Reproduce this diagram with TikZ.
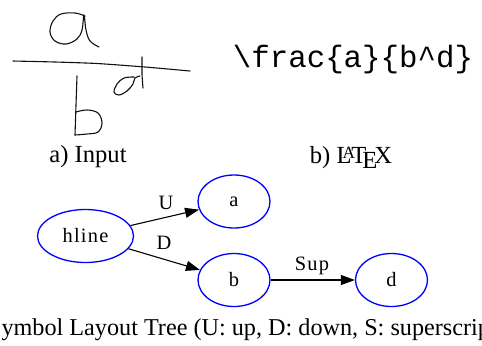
\documentclass[tikz,border=0pt]{standalone}
\usepackage{fontspec}
\setmainfont{Liberation Serif}
\setmonofont{Liberation Mono}
\newfontfamily\gvfont[LetterSpace=6]{Liberation Serif}
\usetikzlibrary{arrows.meta, shapes.geometric}
\definecolor{gvblue}{HTML}{0000FF}
\definecolor{inkgray}{HTML}{111111}

\begin{document}
\begin{tikzpicture}[
  x=0.5pt, y=-0.5pt,
  every node/.style={font=\fontsize{12.3}{14}\selectfont},
  pen/.style={inkgray, line width=0.55pt, line cap=round, line join=round},
  symnode/.style={ellipse, draw=gvblue, line width=0.65pt,
    minimum width=36pt, minimum height=26.5pt, inner sep=0pt,
    font=\gvfont\fontsize{10.2}{12}\selectfont},
  relarrow/.style={-{Triangle[length=7pt,width=5pt]}, line width=0.55pt},
  rellabel/.style={font=\gvfont\fontsize{10.2}{12}\selectfont},
]

% Frame
\useasboundingbox (0,0) rectangle (482,345);
\clip (0,0) rectangle (482,345);

% a) Handwritten input
\draw[pen] plot[smooth, tension=0.6] coordinates {(85,16) (75,13) (61,14) (53,21) (50,32) (55,41) (66,44) (77,39) (82,30) (84,15) (86,30) (90,41) (99,47)};
\draw[pen] plot[smooth, tension=0.4] coordinates {(13,61) (55,62) (97,63.5) (145,67) (190,71)};
\draw[pen] plot[smooth, tension=0.3] coordinates {(77,76) (76,105) (75,135)};
\draw[pen] plot[smooth, tension=0.6] coordinates {(76,112) (87,110) (98,113) (102,123) (98,132) (87,134) (75,135)};
\draw[pen] plot[smooth, tension=0.6] coordinates {(134,77) (124,78) (117,84) (114,92) (119,95) (127,91) (133,84) (135,78) (140,76)};
\draw[pen] plot[smooth, tension=0.4] coordinates {(142,57) (142,74) (143,88)};
\node[anchor=base] (inputcap) at (88,162) {a) Input};

% b) LaTeX source
\node (latexsrc) at (353,60)
  {\ttfamily\fontsize{15.4}{18}\selectfont \textbackslash frac\{a\}\{b\textasciicircum d\}};
\node[anchor=base] (latexcap) at (351,163) {b) \LaTeX};

% c) Symbol layout tree
\node[symnode, minimum width=48pt] (hline) at (85.5,236) {hline};
\node[symnode] (a) at (234,201.5) {a};
\node[symnode] (b) at (234,280) {b};
\node[symnode] (d) at (391.5,280) {d};

\draw[relarrow] (hline) -- (a);
\draw[relarrow] (hline) -- (b);
\draw[relarrow] (b) -- (d);

\node[rellabel] (lblU) at (166,203) {U};
\node[rellabel] (lblD) at (164,243) {D};
\node[rellabel] (lblS) at (312,266) {Sup};

\node[anchor=base west, font=\fontsize{12.1}{14}\selectfont] (treecap) at (-19,335)
  {Symbol Layout Tree (U: up, D: down, S: superscript)};

\end{tikzpicture}
\end{document}
